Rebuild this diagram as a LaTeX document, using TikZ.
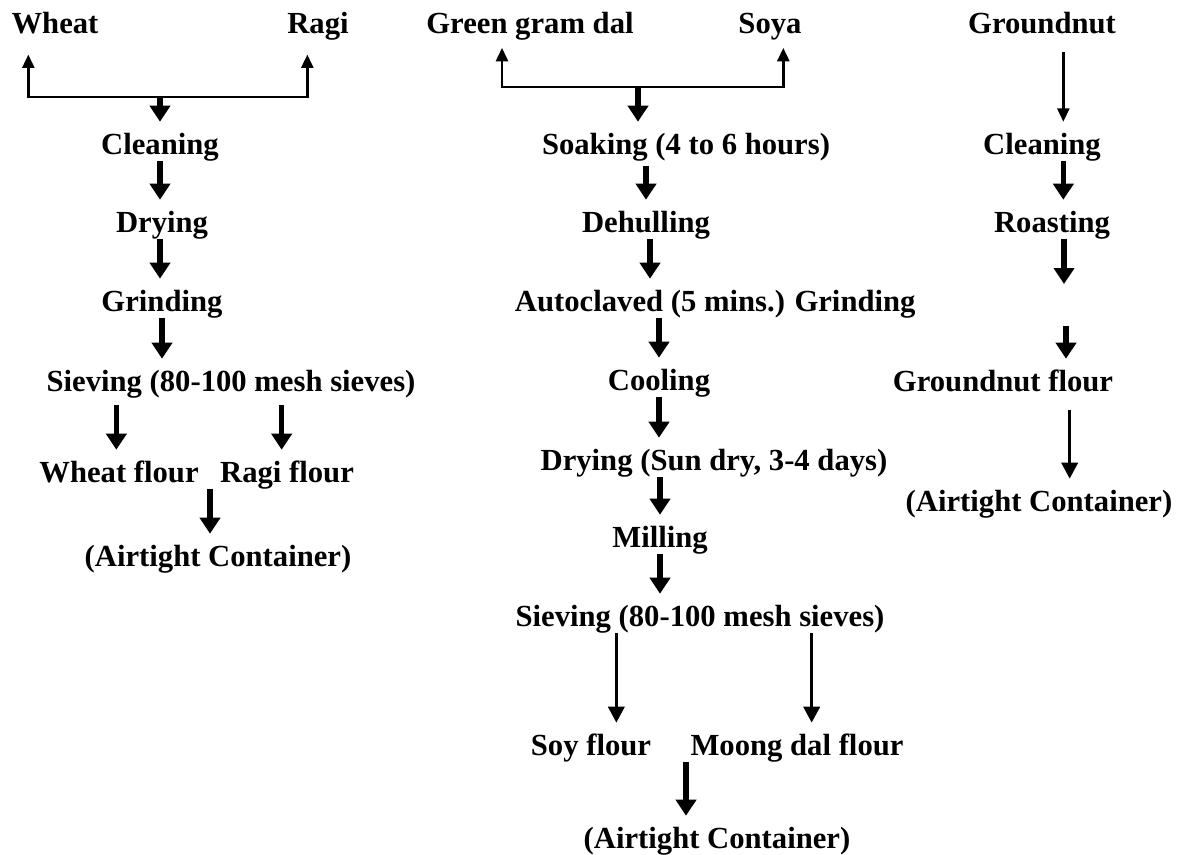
\documentclass[tikz,border=0pt]{standalone}
\usepackage{fontspec}
\setmainfont{Liberation Serif}
\usetikzlibrary{arrows.meta,calc}

\begin{document}
\begin{tikzpicture}[
  x=0.75pt, y=-0.75pt,
  stage/.style={font=\fontsize{23}{27}\selectfont\bfseries, inner sep=0pt, text height=24pt, text depth=5pt, anchor=base},
  arr/.style={-{Triangle[width=15pt,length=12pt]}, line width=3.8pt},
  longarr/.style={-{Triangle[width=12pt,length=12pt]}, line width=2.6pt},
  branch/.style={-{Triangle[width=9pt,length=10pt]}, line width=1.8pt}
]
  \useasboundingbox (0,0) rectangle (1177,854);

  % wheat and ragi
  \node[stage] (wheatA) at (55,33) {Wheat};
  \node[stage] (ragiA) at (318,33) {Ragi};
  \node[stage] (cleanA) at (160,154) {Cleaning};
  \node[stage] (dryA) at (162,232) {Drying};
  \node[stage] (grindA) at (162,311) {Grinding};
  \node[stage] (sieveA) at (231,391) {Sieving (80-100 mesh sieves)};
  \node[stage] (wflourA) at (119,482) {Wheat flour};
  \node[stage] (rflourA) at (287,482) {Ragi flour};
  \node[stage] (contA) at (218,566) {(Airtight Container)};
  \coordinate (forkA) at (160,97);
  \coordinate (midA) at ($(wflourA.south)!0.5!(rflourA.south)+(7,0)$);

  \draw[branch] (forkA) -| ([xshift=-20pt,yshift=-11pt]wheatA.south);
  \draw[branch] (forkA) -| ([xshift=-8pt,yshift=-11pt]ragiA.south);
  \draw[arr] (forkA) -- (cleanA.north);
  \draw[arr] (cleanA.south) -- (cleanA.south |- dryA.north);
  \draw[arr] (cleanA.south |- dryA.south) -- (cleanA.south |- grindA.north);
  \draw[arr] (grindA.south) -- (grindA.south |- sieveA.north);
  \draw[arr, shorten <=5pt] ([xshift=-2pt]wflourA.north |- sieveA.south) -- ([xshift=-2pt]wflourA.north);
  \draw[arr, shorten <=5pt] ([xshift=-4pt]rflourA.north |- sieveA.south) -- ([xshift=-4pt]rflourA.north);
  \draw[arr] (midA) -- (midA |- contA.north);

  % green gram dal and soya
  \node[stage] (greenB) at (530,33) {Green gram dal};
  \node[stage] (soyaB) at (770,33) {Soya};
  \node[stage] (soakB) at (686,154) {Soaking (4 to 6 hours)};
  \node[stage] (dehullB) at (646,232) {Dehulling};
  \node[stage] (autocB) at (650,311) {Autoclaved (5 mins.)};
  \node[stage] (grindB) at (855,311) {Grinding};
  \node[stage] (coolB) at (659,390) {Cooling};
  \node[stage] (drySunB) at (714,470) {Drying (Sun dry, 3-4 days)};
  \node[stage] (millB) at (660,547) {Milling};
  \node[stage] (sieveB) at (700,626) {Sieving (80-100 mesh sieves)};
  \node[stage] (soyB) at (591,755) {Soy flour};
  \node[stage] (moongB) at (797,755) {Moong dal flour};
  \node[stage] (contB) at (717,848) {(Airtight Container)};
  \coordinate (forkB) at (638,87);
  \coordinate (midB) at ($(soyB.south)!0.5!(moongB.south)+(-8,0)$);

  \draw[branch] (forkB) -| ([xshift=-21pt,yshift=-6pt]greenB.south);
  \draw[branch] (forkB) -| ([xshift=10pt,yshift=-6pt]soyaB.south);
  \draw[arr] (forkB) -- (forkB |- soakB.north);
  \draw[arr, shorten <=4pt] (soakB.south -| dehullB.north) -- (dehullB.north);
  \draw[arr] (dehullB.south -| autocB.north) -- (autocB.north);
  \draw[arr] (autocB.south -| coolB.north) -- (coolB.north);
  \draw[arr] (coolB.south) -- (coolB.south |- drySunB.north);
  \draw[arr] (drySunB.south -| millB.north) -- (millB.north);
  \draw[arr] (millB.south) -- (millB.south |- sieveB.north);
  \draw[longarr] ([xshift=19pt]soyB.north |- sieveB.south) -- ([xshift=19pt]soyB.north);
  \draw[longarr] ([xshift=11pt]moongB.north |- sieveB.south) -- ([xshift=11pt]moongB.north);
  \draw[arr] (midB) -- (midB |- contB.north);

  % groundnut
  \node[stage] (gnutC) at (1042,33) {Groundnut};
  \node[stage] (cleanC) at (1042,154) {Cleaning};
  \node[stage] (roastC) at (1052,232) {Roasting};
  \node[stage] (gflourC) at (1003,391) {Groundnut flour};
  \node[stage] (contC) at (1039,511) {(Airtight Container)};
  \coordinate (gapC1) at (1064,284);
  \coordinate (gapC2) at (1066,326);

  \draw[branch, shorten <=9pt] ([xshift=16pt]gnutC.south) -- ([xshift=16pt]gnutC.south |- cleanC.north);
  \draw[arr] ([xshift=16pt]cleanC.south) -- ([xshift=16pt]cleanC.south |- roastC.north);
  \draw[arr] (roastC.south -| gapC1) -- (gapC1);
  \draw[arr] (gapC2) -- (gapC2 |- gflourC.north);
  \draw[longarr, shorten <=9pt] ([xshift=50pt]gflourC.south) -- ([xshift=50pt]gflourC.south |- contC.north);
\end{tikzpicture}
\end{document}
